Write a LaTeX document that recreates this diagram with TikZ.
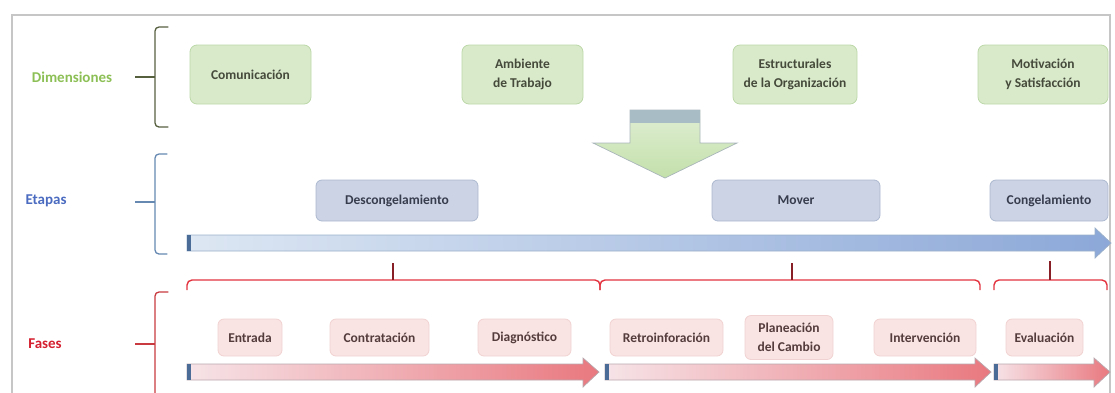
\documentclass[tikz,border=0pt]{standalone}
\usepackage{fontspec}
\setmainfont{Carlito}
\begin{document}
\begin{tikzpicture}[x=1pt,y=-1pt,
  boxtxt/.style={font=\fontsize{13.5}{19}\selectfont\bfseries, align=center, inner sep=0pt},
  dimbox/.style={boxtxt, rounded corners=7pt, draw=dimline, fill=dimfill, line width=0.8pt, text=dimtext, minimum height=59pt},
  etabox/.style={boxtxt, rounded corners=6pt, draw=etaline, fill=etafill, line width=0.8pt, text=etatext, minimum height=41pt},
  fasbox/.style={boxtxt, rounded corners=6pt, draw=fasline, fill=fasfill, line width=0.8pt, text=fastext, minimum height=37pt},
  rowlabel/.style={font=\fontsize{15}{18}\selectfont\bfseries, inner sep=0pt},
  bracket/.style={line width=1.3pt, line cap=round, rounded corners=4pt},
  redbrace/.style={draw=bracered, line width=1.4pt, rounded corners=5pt},
  tick/.style={draw=bracered!60!black, line width=1.3pt},
  bluebar/.style={draw=barblueline, line width=0.7pt, left color=barblueL, right color=barblueR},
  pinkbar/.style={draw=barpinkline, line width=0.7pt, left color=barpinkL, right color=barpinkR},
]
% palette
\definecolor{dimfill}{HTML}{D9EACB}
\definecolor{dimline}{HTML}{BCD8A8}
\definecolor{dimtext}{HTML}{454A3A}
\definecolor{etafill}{HTML}{CBD3E4}
\definecolor{etaline}{HTML}{ADB9D0}
\definecolor{etatext}{HTML}{383D4E}
\definecolor{fasfill}{HTML}{F9E3E3}
\definecolor{fasline}{HTML}{F1D2D2}
\definecolor{fastext}{HTML}{553C3C}
\definecolor{bracered}{HTML}{E2333F}
\definecolor{barblueL}{HTML}{DDE7F3}
\definecolor{barblueR}{HTML}{8CA8D8}
\definecolor{barblueline}{HTML}{9AAFC8}
\definecolor{barpinkL}{HTML}{F6E4E8}
\definecolor{barpinkR}{HTML}{E9787F}
\definecolor{barpinkline}{HTML}{B9A8AE}
\definecolor{capblue}{HTML}{4C6C98}
\definecolor{dimlabel}{HTML}{8CBF55}
\definecolor{etalabel}{HTML}{4A6BC0}
\definecolor{faslabel}{HTML}{D42030}
\definecolor{dimbrace}{HTML}{56603F}
\definecolor{etabrace}{HTML}{6689B2}
\definecolor{fasbrace}{HTML}{C83A40}
\definecolor{arrowtop}{HTML}{E0EED4}
\definecolor{arrowbot}{HTML}{C3E0AA}
\definecolor{arrowband}{HTML}{A8BCC6}
\definecolor{arrowline}{HTML}{A9B5BA}

\useasboundingbox (0,0) rectangle (1115,392);

% outer frame
\draw[gray!45, line width=2pt] (12,400) -- (12,15) -- (1110,15) -- (1110,400);

% row labels with their brackets
\node[rowlabel, text=dimlabel] (ldim) at (72,77) {Dimensiones};
\node[rowlabel, text=etalabel] (leta) at (46,201) {Etapas};
\node[rowlabel, text=faslabel] (lfas) at (45,344) {Fases};

\draw[bracket, draw=dimbrace] (168,27) -- (155,27) -- (155,127) -- (168,127);
\draw[line width=1.3pt, draw=dimbrace] (135,77) -- (155,77);
\draw[bracket, draw=etabrace] (167,154) -- (155,154) -- (155,254) -- (167,254);
\draw[line width=1.3pt, draw=etabrace] (135,202) -- (155,202);
\draw[bracket, draw=fasbrace] (168,292) -- (155,292) -- (155,400) -- (168,400);
\draw[line width=1.3pt, draw=fasbrace] (135,344) -- (155,344);

% dimension boxes
\node[dimbox, minimum width=121pt] (d1) at (250.5,74.5) {Comunicación};
\node[dimbox, minimum width=121pt] (d2) at (522.5,74.5) {Ambiente\\de Trabajo};
\node[dimbox, minimum width=124pt] (d3) at (795,74.5) {Estructurales\\de la Organización};
\node[dimbox, minimum width=130pt] (d4) at (1043,74.5) {Motivación\\y Satisfacción};

% downward block arrow
\shade[top color=arrowtop, bottom color=arrowbot, draw=arrowline, line width=0.7pt]
  (630,110) -- (700,110) -- (700,143) -- (737,143) -- (665,178) -- (593,143) -- (630,143) -- cycle;
\fill[arrowband] (630.4,110.4) rectangle (699.6,123);

% stage boxes
\node[etabox, minimum width=162pt] (e1) at (397,200.5) {Descongelamiento};
\node[etabox, minimum width=168pt] (e2) at (796,200.5) {Mover};
\node[etabox, minimum width=118pt] (e3) at (1049,200.5) {Congelamiento};

% stage timeline arrow
\path[bluebar] (187,235) -- (1095,235) -- (1095,228) -- (1111,243) -- (1095,258) -- (1095,251) -- (187,251) -- cycle;
\fill[capblue] (187,235) rectangle (191,251);

% braces grouping the phases under each stage
\draw[redbrace] (187,290) -- (187,280) -- (600,280) -- (600,290);
\draw[tick] (393,263) -- (393,280);
\draw[redbrace] (600,290) -- (600,280) -- (980,280) -- (980,290);
\draw[tick] (792,263) -- (792,280);
\draw[redbrace] (994,290) -- (994,280) -- (1107,280) -- (1107,290);
\draw[tick] (1050,261) -- (1050,280);

% phase boxes
\node[fasbox, minimum width=64pt] (f1) at (250,337.5) {Entrada};
\node[fasbox, minimum width=99pt] (f2) at (379.5,337.5) {Contratación};
\node[fasbox, minimum width=93pt] (f3) at (524.5,337.5) {Diagnóstico};
\node[fasbox, minimum width=113pt] (f4) at (666.5,337.5) {Retroinforación};
\node[fasbox, minimum width=88pt, minimum height=44pt] (f5) at (789,337.5) {Planeación\\del Cambio};
\node[fasbox, minimum width=102pt] (f6) at (925,337.5) {Intervención};
\node[fasbox, minimum width=77pt] (f7) at (1044.5,337.5) {Evaluación};

% phase timeline arrows
\path[pinkbar] (187,364) -- (583,364) -- (583,358) -- (599,372) -- (583,387) -- (583,380) -- (187,380) -- cycle;
\fill[capblue] (187,364) rectangle (191,380);
\path[pinkbar] (605,364) -- (975,364) -- (975,358) -- (991,372) -- (975,387) -- (975,380) -- (605,380) -- cycle;
\fill[capblue] (605,364) rectangle (609,380);
\path[pinkbar] (994,364) -- (1094,364) -- (1094,358) -- (1110,372) -- (1094,387) -- (1094,380) -- (994,380) -- cycle;
\fill[capblue] (994,364) rectangle (998,380);
\end{tikzpicture}
\end{document}
